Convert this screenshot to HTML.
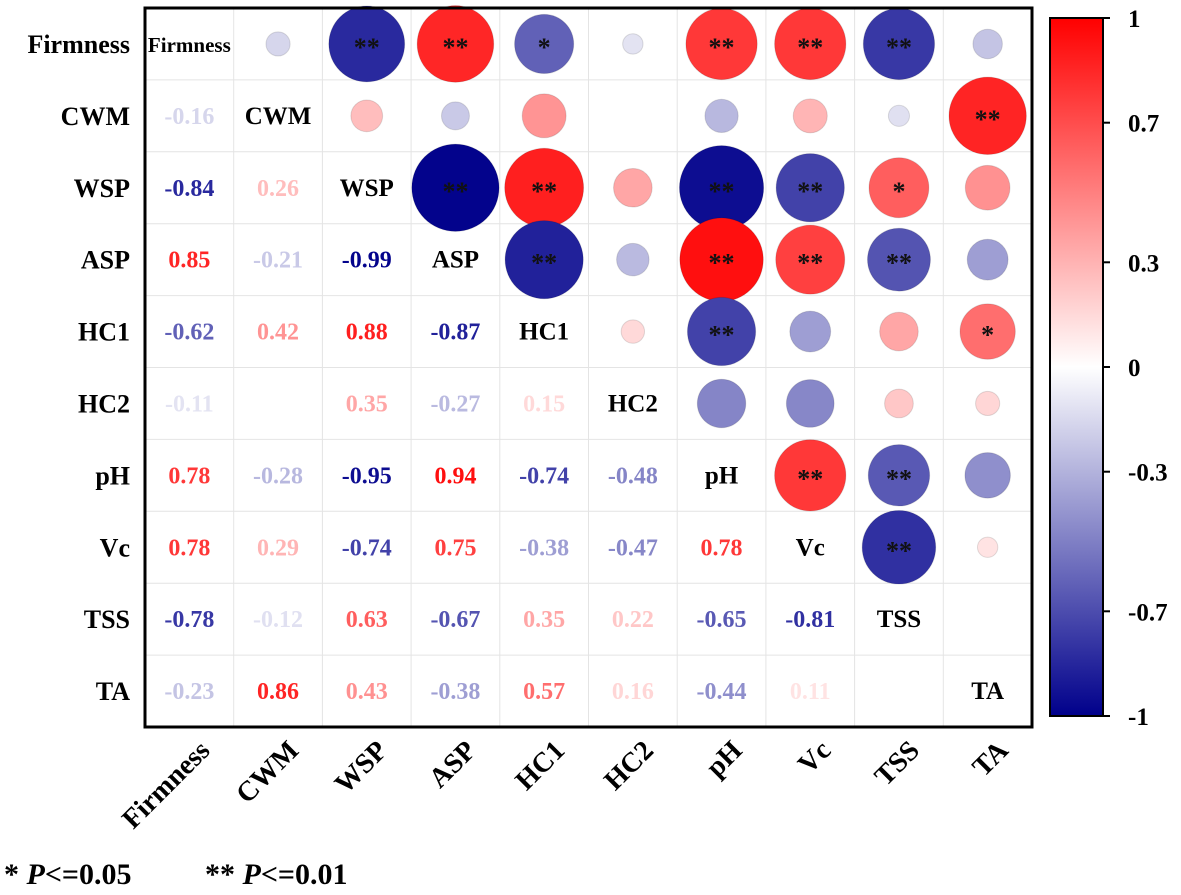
<!DOCTYPE html>
<html><head><meta charset="utf-8"><style>
body{margin:0;background:#fff;}
svg text{font-family:"Liberation Serif",serif;font-weight:bold;}
</style></head><body>
<svg id="chart" width="1181" height="890" xmlns="http://www.w3.org/2000/svg">
<defs>
<linearGradient id="cbar" x1="0" y1="0" x2="0" y2="1">
<stop offset="0" stop-color="rgb(255,0,0)"/><stop offset="0.5" stop-color="rgb(255,255,255)"/><stop offset="1" stop-color="rgb(0,0,139)"/>
</linearGradient>
</defs>
<g id="cells"></g>
<rect x="145" y="8" width="887" height="719" fill="none" stroke="#000" stroke-width="3"/>
<g id="colorbar">
<rect x="1050" y="18" width="53" height="698" fill="url(#cbar)" stroke="#000" stroke-width="2"/>
</g>
<text x="4" y="884" font-size="30">* <tspan font-style="italic">P</tspan>&lt;=0.05</text>
<text x="205" y="884" font-size="30">** <tspan font-style="italic">P</tspan>&lt;=0.01</text>
</svg>
<script>
const vars = ["Firmness","CWM","WSP","ASP","HC1","HC2","pH","Vc","TSS","TA"];
const lower = [
 [],
 [-0.16],
 [-0.84,0.26],
 [0.85,-0.21,-0.99],
 [-0.62,0.42,0.88,-0.87],
 [-0.11,0.0,0.35,-0.27,0.15],
 [0.78,-0.28,-0.95,0.94,-0.74,-0.48],
 [0.78,0.29,-0.74,0.75,-0.38,-0.47,0.78],
 [-0.78,-0.12,0.63,-0.67,0.35,0.22,-0.65,-0.81],
 [-0.23,0.86,0.43,-0.38,0.57,0.16,-0.44,0.11,0.0]
];
const sigPairs = [
 ["Firmness","WSP","**"],["Firmness","ASP","**"],["Firmness","HC1","*"],["Firmness","pH","**"],["Firmness","Vc","**"],["Firmness","TSS","**"],
 ["CWM","TA","**"],
 ["WSP","ASP","**"],["WSP","HC1","**"],["WSP","pH","**"],["WSP","Vc","**"],["WSP","TSS","*"],
 ["ASP","HC1","**"],["ASP","pH","**"],["ASP","Vc","**"],["ASP","TSS","**"],
 ["HC1","pH","**"],["HC1","TA","*"],
 ["pH","Vc","**"],["pH","TSS","**"],["Vc","TSS","**"]
];
const cbTicks = [1,0.7,0.3,0,-0.3,-0.7,-1];

const NS="http://www.w3.org/2000/svg";
const svg=document.getElementById('chart');
const cells=document.getElementById('cells');
const X0=145,Y0=8,CW=887/10,CH=719/10;
const cx=i=>X0+CW*(i+0.5), cy=i=>Y0+CH*(i+0.5);
const rScale=v=>6+38*Math.abs(v);
function color(v){
 v=Math.max(-1,Math.min(1,v));
 if(v>=0){const g=Math.round(255*(1-v));return `rgb(255,${g},${g})`;}
 const t=-v;return `rgb(${Math.round(255*(1-t))},${Math.round(255*(1-t))},${Math.round(255-116*t)})`;
}
function mk(tag,attrs,parent){const e=document.createElementNS(NS,tag);for(const k in attrs)e.setAttribute(k,attrs[k]);(parent||svg).appendChild(e);return e;}
function val(i,j){return i>j?lower[i][j]:lower[j][i];}
const sig={};sigPairs.forEach(p=>{sig[p[0]+"|"+p[1]]=p[2];});
for(let k=1;k<10;k++){
 const a=mk('line',{x1:X0+CW*k,x2:X0+CW*k,y1:Y0,y2:Y0+719,stroke:'#e4e4e4','stroke-width':1},cells);
 
 
 const b=mk('line',{y1:Y0+CH*k,y2:Y0+CH*k,x1:X0,x2:X0+887,stroke:'#e4e4e4','stroke-width':1},cells);
 
 
}
for(let i=0;i<10;i++){
 const l=mk('text',{x:130,y:cy(i)+9,'font-size':26,'text-anchor':'end'});
 l.textContent=vars[i];
 
 
 const bx=cx(i)+22,by=752;
 const b=mk('text',{x:bx,y:by,'font-size':28,'text-anchor':'end',transform:`rotate(-45 ${bx} ${by})`});
 b.textContent=vars[i];
 
 
 for(let j=0;j<10;j++){
  if(i===j){
   const d=mk('text',{x:cx(j),y:cy(i)+8,'font-size':vars[i].length>5?21:25,'text-anchor':'middle'},cells);
   d.textContent=vars[i];
   
   
  } else if(i>j){
   const v=val(i,j);
   if(Math.abs(v)<0.05)continue;
   const t=mk('text',{x:cx(j),y:cy(i)+8,'font-size':24,'text-anchor':'middle',fill:color(v)},cells);
   t.textContent=v.toFixed(2);
   
   
  } else {
   const v=val(i,j);
   if(Math.abs(v)<0.05)continue;
   const c=mk('circle',{cx:cx(j),cy:cy(i),r:rScale(v),fill:color(v),stroke:'rgba(0,0,0,0.12)','stroke-width':1},cells);
   
   
   const s=sig[vars[i]+"|"+vars[j]];
   if(s){
    const st=mk('text',{x:cx(j),y:cy(i)+12,'font-size':26,'text-anchor':'middle',fill:'#111','font-weight':'normal'},cells);
    st.textContent=s;
    
    
   }
  }
 }
}
const cb=document.getElementById('colorbar');
const cbY=v=>367-v*349;
cbTicks.forEach(v=>{
 mk('line',{x1:1103,x2:1110,y1:cbY(v),y2:cbY(v),stroke:'#000','stroke-width':2},cb);
 const t=mk('text',{x:1128,y:cbY(v)+9,'font-size':25},cb);
 t.textContent=String(v);
 
 
});
</script>
</body></html>
